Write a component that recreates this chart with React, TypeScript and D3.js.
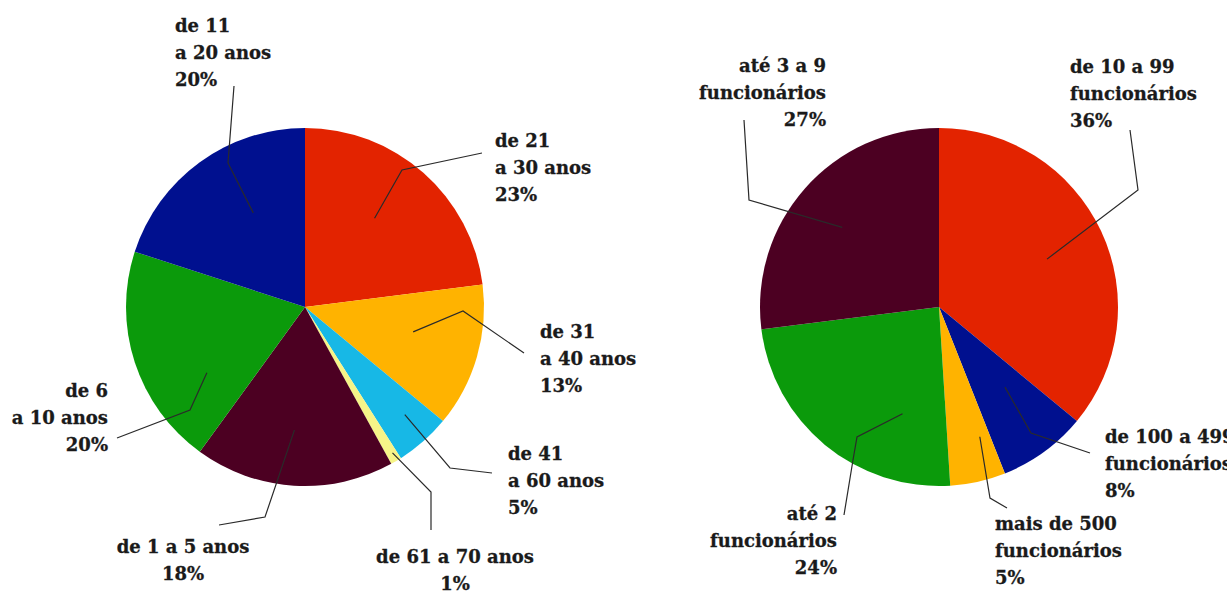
import React from "react";
import * as d3 from "d3";

// left pie: tempo de atuação
const ageLabels = [
  ["de 21", "a 30 anos"],
  ["de 31", "a 40 anos"],
  ["de 41", "a 60 anos"],
  ["de 61 a 70 anos"],
  ["de 1 a 5 anos"],
  ["de 6", "a 10 anos"],
  ["de 11", "a 20 anos"],
];
const ageValues = [23, 13, 5, 1, 18, 20, 20];
const ageColors = ["#e32300", "#ffb300", "#17b8e6", "#f6f488", "#4c0022", "#0b9a0b", "#00108f"];

// right pie: porte da empresa
const sizeLabels = [
  ["de 10 a 99", "funcionários"],
  ["de 100 a 499", "funcionários"],
  ["mais de 500", "funcionários"],
  ["até 2", "funcionários"],
  ["até 3 a 9", "funcionários"],
];
const sizeValues = [36, 8, 5, 24, 27];
const sizeColors = ["#e32300", "#00108f", "#ffb300", "#0b9a0b", "#4c0022"];

// label placement: t = position inside the slice angle, rf = radius fraction,
// pts = leader bend/end relative to centre, tx/ty = text anchor relative to centre
type Lay = { t: number; rf: number; pts: number[][]; tx: number; ty: number; anchor: string };

const ageLayout: Lay[] = [
  { t: 0.46, rf: 0.63, pts: [[97, -137], [177, -154]], tx: 190, ty: -160, anchor: "start" },
  { t: 0.43, rf: 0.62, pts: [[158, 4], [219, 46]], tx: 235, ty: 31, anchor: "start" },
  { t: 0.42, rf: 0.82, pts: [[145, 161], [187, 166]], tx: 203, ty: 153, anchor: "start" },
  { t: 0.4, rf: 0.95, pts: [[126, 185], [126, 223]], tx: 150, ty: 256, anchor: "middle" },
  { t: 0.52, rf: 0.69, pts: [[-40, 210], [-86, 218]], tx: -122, ty: 246, anchor: "middle" },
  { t: 0.28, rf: 0.66, pts: [[-115, 103], [-188, 131]], tx: -197, ty: 90, anchor: "end" },
  { t: 0.6, rf: 0.6, pts: [[-77, -144], [-71, -221]], tx: -130, ty: -275, anchor: "start" },
];

const sizeLayout: Lay[] = [
  { t: 0.51, rf: 0.66, pts: [[199, -117], [191, -177]], tx: 131, ty: -234, anchor: "start" },
  { t: 0.38, rf: 0.58, pts: [[92, 126], [151, 146]], tx: 166, ty: 136, anchor: "start" },
  { t: 0.23, rf: 0.76, pts: [[51, 191], [68, 201]], tx: 56, ty: 223, anchor: "start" },
  { t: 0.26, rf: 0.63, pts: [[-82, 130], [-86, 153], [-95, 208]], tx: -102, ty: 213, anchor: "end" },
  { t: 0.48, rf: 0.7, pts: [[-190, -107], [-195, -187]], tx: -113, ty: -235, anchor: "end" },
];

const R = 179;
const LINE_H = 27;

function Pie({ cx, cy, values, labels, colors, layout }: any) {
  const pie = d3.pie<number>().sort(null).value((d) => d);
  const arcs = pie(values);
  const arc = d3.arc<d3.PieArcDatum<number>>().innerRadius(0).outerRadius(R);
  const line = d3.line();
  const total = d3.sum(values);
  return (
    <g transform={`translate(${cx},${cy})`}>
      {arcs.map((d, i) => (
        <path key={"s" + i} d={arc(d) || ""} fill={colors[i]} />
      ))}
      {arcs.map((d, i) => {
        const L = layout[i];
        const a = d.startAngle + L.t * (d.endAngle - d.startAngle);
        const p0: [number, number] = [Math.sin(a) * R * L.rf, -Math.cos(a) * R * L.rf];
        const pts = [p0, ...L.pts] as [number, number][];
        const lines = [...labels[i], Math.round((values[i] / total) * 100) + "%"];
        return (
          <g key={"l" + i}>
            <path d={line(pts) || ""} fill="none" stroke="#2a2a2a" strokeWidth={1.2} />
            <text
              x={L.tx}
              y={L.ty}
              textAnchor={L.anchor}
              fontFamily="'DejaVu Serif', serif"
              fontWeight="bold"
              fontSize={18}
              fill="#1a1a1a"
              stroke="#1a1a1a"
              strokeWidth={0.3}
            >
              {lines.map((s: string, k: number) => (
                <tspan key={k} x={L.tx} y={L.ty + k * LINE_H}>
                  {s}
                </tspan>
              ))}
            </text>
          </g>
        );
      })}
    </g>
  );
}

export default function App() {
  return (
    <svg
      width={1227}
      height={591}
      style={{ position: "absolute", left: 0, top: 0, background: "#fff" }}
    >
      <rect width={1227} height={591} fill="#fff" />
      <Pie cx={305} cy={307} values={ageValues} labels={ageLabels} colors={ageColors} layout={ageLayout} />
      <Pie cx={939} cy={307} values={sizeValues} labels={sizeLabels} colors={sizeColors} layout={sizeLayout} />
    </svg>
  );
}
